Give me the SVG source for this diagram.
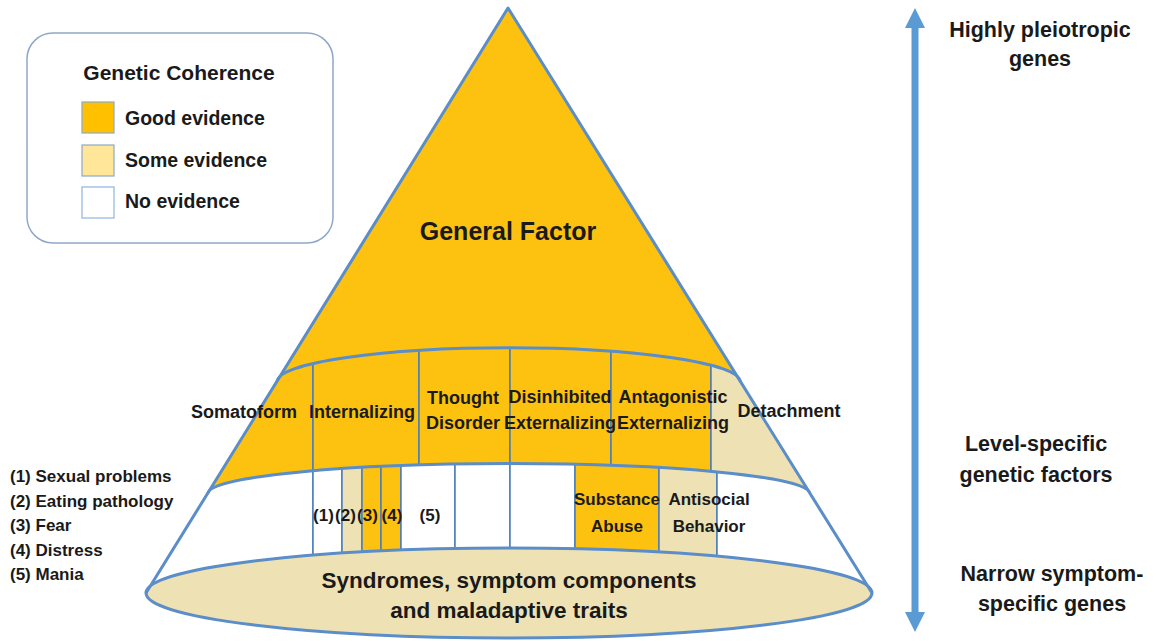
<svg xmlns="http://www.w3.org/2000/svg" width="1168" height="641" viewBox="0 0 1168 641">
  <style>
    text { font-family: "Liberation Sans", Arial, sans-serif; font-weight: bold; fill: #1a1a1a; }
    .c { text-anchor: middle; }
    .band { font-size: 18px; }
    .low { font-size: 17px; }
    .y { fill: #FDC210; }
    .b { fill: #EEE2B5; }
    .w { fill: #FFFFFF; }
    .cell { stroke: #4A7EBB; stroke-width: 1.5; }
    .outline { fill: none; stroke: #5B8DC9; stroke-width: 3; stroke-linejoin: round; }
    .right { font-size: 21.5px; }
    .leg { font-size: 19.5px; }
    .list { font-size: 17px; }
  </style>
  <defs>
    <clipPath id="upper">
      <path d="M277.2,381 A231.5,34 0 0 1 740.1,381 L809.8,493 A301,30 0 0 0 207.9,493 Z"/>
    </clipPath>
    <clipPath id="lower">
      <path d="M207.9,493 A301,30 0 0 1 809.8,493 L872,593 A363,45 0 0 0 146,593 Z"/>
    </clipPath>
    <marker id="ah" viewBox="0 0 20 20" refX="1" refY="10" markerWidth="20" markerHeight="20" markerUnits="userSpaceOnUse" orient="auto-start-reverse">
      <path d="M0,0 L20,10 L0,20 Z" fill="#5B9BD5"/>
    </marker>
  </defs>

  <rect width="1168" height="641" fill="#FFFFFF"/>

  <!-- Legend -->
  <g id="legend">
    <rect x="27" y="33" width="306" height="210" rx="26" fill="#FFFFFF" stroke="#8FA8C8" stroke-width="1.5"/>
    <text class="c" x="179" y="80" font-size="21px">Genetic Coherence</text>
    <rect x="82" y="102" width="32" height="31" fill="#FFC000" stroke="#8EA9C8" stroke-width="1.2"/>
    <text class="leg" x="125" y="125">Good evidence</text>
    <rect x="82" y="145" width="32" height="31" fill="#FFE699" stroke="#8EA9C8" stroke-width="1.2"/>
    <text class="leg" x="125" y="167">Some evidence</text>
    <rect x="82" y="187" width="32" height="31" fill="#FFFFFF" stroke="#8EB4E3" stroke-width="1.2"/>
    <text class="leg" x="125" y="208">No evidence</text>
  </g>

  <!-- General factor (apex) -->
  <g id="general-factor">
    <path class="y" d="M508,8 L277.2,381 A231.5,34 0 0 1 740.1,381 Z"/>
    <text class="c" x="508" y="240" font-size="25px">General Factor</text>
  </g>

  <!-- Upper band cells -->
  <g id="somatoform"><rect class="y cell" x="120" y="330" width="193" height="180" clip-path="url(#upper)"/></g>
  <g id="internalizing"><rect class="y cell" x="313" y="330" width="106" height="180" clip-path="url(#upper)"/></g>
  <g id="thought-disorder"><rect class="y cell" x="419" y="330" width="91" height="180" clip-path="url(#upper)"/></g>
  <g id="disinhibited-externalizing"><rect class="y cell" x="510" y="330" width="101" height="180" clip-path="url(#upper)"/></g>
  <g id="antagonistic-externalizing"><rect class="y cell" x="611" y="330" width="100" height="180" clip-path="url(#upper)"/></g>
  <g id="detachment"><rect class="b cell" x="711" y="330" width="180" height="180" clip-path="url(#upper)"/></g>

  <!-- Lower band cells -->
  <g id="lower-left"><rect class="w cell" x="120" y="450" width="193" height="160" clip-path="url(#lower)"/></g>
  <g id="cell-1"><rect class="w cell" x="313" y="450" width="29" height="160" clip-path="url(#lower)"/></g>
  <g id="cell-2"><rect class="b cell" x="342" y="450" width="20" height="160" clip-path="url(#lower)"/></g>
  <g id="cell-3"><rect class="y cell" x="362" y="450" width="19" height="160" clip-path="url(#lower)"/></g>
  <g id="cell-4"><rect class="y cell" x="381" y="450" width="20" height="160" clip-path="url(#lower)"/></g>
  <g id="cell-5"><rect class="w cell" x="401" y="450" width="54" height="160" clip-path="url(#lower)"/></g>
  <g id="cell-blank-a"><rect class="w cell" x="455" y="450" width="55" height="160" clip-path="url(#lower)"/></g>
  <g id="cell-blank-b"><rect class="w cell" x="510" y="450" width="65" height="160" clip-path="url(#lower)"/></g>
  <g id="substance-abuse"><rect class="y cell" x="575" y="450" width="84" height="160" clip-path="url(#lower)"/></g>
  <g id="antisocial-behavior"><rect class="b cell" x="659" y="450" width="58" height="160" clip-path="url(#lower)"/></g>
  <g id="lower-right"><rect class="w cell" x="717" y="450" width="180" height="160" clip-path="url(#lower)"/></g>

  <!-- Base ellipse -->
  <g id="syndromes">
    <ellipse cx="509" cy="593" rx="363" ry="45" fill="#EEE2B5" stroke="#5B8DC9" stroke-width="3"/>
    <text class="c" x="509" y="588" font-size="22.5px">Syndromes, symptom components</text>
    <text class="c" x="509" y="618" font-size="22.5px">and maladaptive traits</text>
  </g>

  <!-- Cone outlines -->
  <g id="outlines">
    <path class="outline" d="M146,593 L508,8 L872,593"/>
    <path class="outline" d="M277.2,381 A231.5,34 0 0 1 740.1,381"/>
    <path class="outline" d="M207.9,493 A301,30 0 0 1 809.8,493"/>
  </g>

  <!-- Cell labels (drawn above all cells, as they overlap dividers) -->
  <g id="label-somatoform"><text class="c band" x="244" y="418">Somatoform</text></g>
  <g id="label-internalizing"><text class="c band" x="362" y="418">Internalizing</text></g>
  <g id="label-thought-disorder">
    <text class="c band" x="463" y="404">Thought</text>
    <text class="c band" x="463" y="429">Disorder</text>
  </g>
  <g id="label-disinhibited">
    <text class="c band" x="560" y="403">Disinhibited</text>
    <text class="c band" x="560" y="429">Externalizing</text>
  </g>
  <g id="label-antagonistic">
    <text class="c band" x="673" y="403">Antagonistic</text>
    <text class="c band" x="673" y="429">Externalizing</text>
  </g>
  <g id="label-detachment"><text class="c band" x="789" y="417">Detachment</text></g>
  <g id="label-cell-1"><text class="c low" x="323.5" y="521">(1)</text></g>
  <g id="label-cell-2"><text class="c low" x="345.5" y="521">(2)</text></g>
  <g id="label-cell-3"><text class="c low" x="367.5" y="521">(3)</text></g>
  <g id="label-cell-4"><text class="c low" x="392" y="521">(4)</text></g>
  <g id="label-cell-5"><text class="c low" x="430" y="521">(5)</text></g>
  <g id="label-substance">
    <text class="c low" x="617" y="505">Substance</text>
    <text class="c low" x="617" y="532">Abuse</text>
  </g>
  <g id="label-antisocial">
    <text class="c low" x="709" y="505">Antisocial</text>
    <text class="c low" x="709" y="532">Behavior</text>
  </g>

  <!-- Sub-dimension list -->
  <g id="list">
    <text class="list" x="10" y="482">(1) Sexual problems</text>
    <text class="list" x="10" y="507">(2) Eating pathology</text>
    <text class="list" x="10" y="531">(3) Fear</text>
    <text class="list" x="10" y="556">(4) Distress</text>
    <text class="list" x="10" y="580">(5) Mania</text>
  </g>

  <!-- Vertical double arrow -->
  <g id="connectors">
    <line x1="915" y1="27" x2="915" y2="613" stroke="#5B9BD5" stroke-width="7" marker-start="url(#ah)" marker-end="url(#ah)"/>
  </g>

  <!-- Right-side labels -->
  <g id="label-top">
    <text class="c right" x="1040" y="37">Highly pleiotropic</text>
    <text class="c right" x="1040" y="66">genes</text>
  </g>
  <g id="label-mid">
    <text class="c right" x="1036" y="451">Level-specific</text>
    <text class="c right" x="1036" y="482">genetic factors</text>
  </g>
  <g id="label-bottom">
    <text class="c right" x="1052" y="581">Narrow symptom-</text>
    <text class="c right" x="1052" y="611">specific genes</text>
  </g>
</svg>
